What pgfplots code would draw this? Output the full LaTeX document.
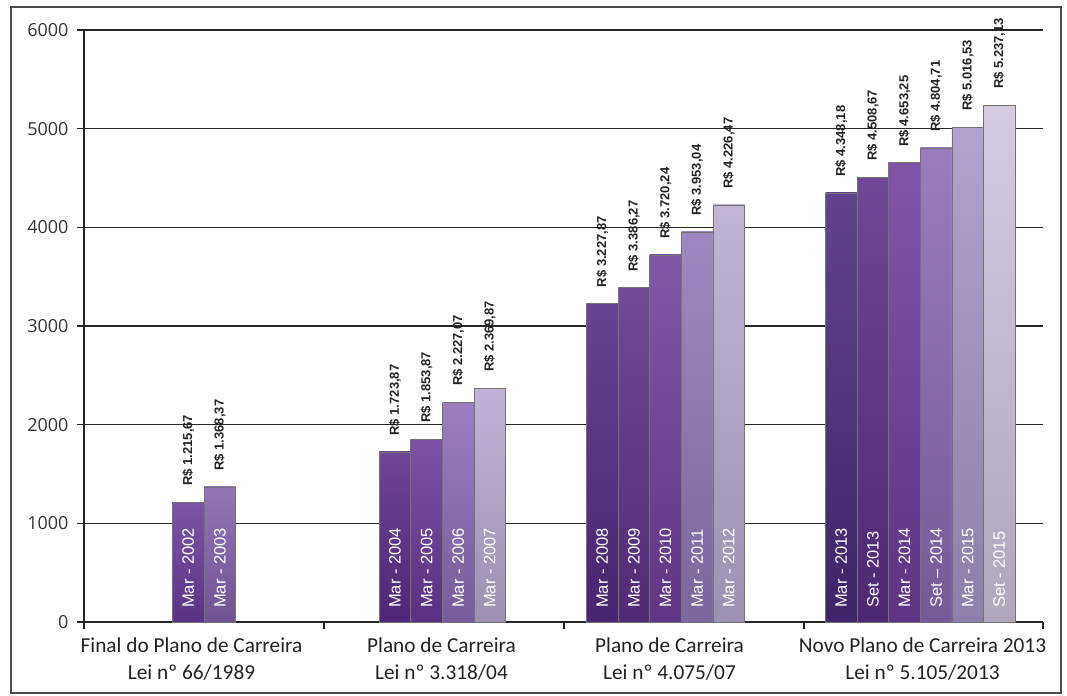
\documentclass[border=0pt]{standalone}
\usepackage{fontspec}
\setmainfont{Carlito}
\newfontfamily\arialf{Liberation Sans}
\newfontfamily\osans{Open Sans}
\usepackage{pgfplots}
\pgfplotsset{compat=1.18}

\definecolor{cA}{HTML}{6A3D9B}
\definecolor{cB}{HTML}{8462AE}
\definecolor{cC}{HTML}{5B2D8A}
\definecolor{cD}{HTML}{6A3A98}
\definecolor{cE}{HTML}{8C6CB5}
\definecolor{cF}{HTML}{B8A9D2}
\definecolor{cG}{HTML}{532B82}
\definecolor{cH}{HTML}{5E3289}
\definecolor{cI}{HTML}{6F409C}
\definecolor{cJ}{HTML}{9079B8}
\definecolor{cK}{HTML}{B9ABD1}
\definecolor{cL}{HTML}{4B2A7D}
\definecolor{cM}{HTML}{5A3088}
\definecolor{cN}{HTML}{6E3E9C}
\definecolor{cO}{HTML}{8A6AB3}
\definecolor{cP}{HTML}{A795C8}
\definecolor{cQ}{HTML}{CFC4DD}
\definecolor{txt}{HTML}{222222}

% #1 x centre, #2 value, #3 colour, #4 date label
\newcommand{\pbar}[4]{%
  \addplot[ybar, bar width=31.6, bar shift=0pt, draw=black!55, line width=0.8pt,
    top color=#3!88!white, bottom color=#3!85!black,
    nodes near coords={R\$~\pgfmathprintnumber{\pgfplotspointmeta}},
    nodes near coords style={rotate=90, anchor=west, inner xsep=16pt, text=txt,
      font=\arialf\bfseries\fontsize{13}{13}\selectfont,
      /pgf/number format/.cd, fixed, fixed zerofill, precision=2,
      1000 sep={.}, dec sep={,}, assume math mode=true}]
    coordinates {(#1,#2)};
  \addplot[draw=none, mark=none,
    nodes near coords={#4},
    nodes near coords style={rotate=90, anchor=west, inner xsep=14pt, text=white,
      font=\arialf\fontsize{16.5}{16.5}\selectfont}]
    coordinates {(#1,0)};
}

\begin{document}
\begin{tikzpicture}
\begin{axis}[
  scale only axis, width=959pt, height=592pt,
  xmin=84, xmax=1043, ymin=0, ymax=6000,
  clip=false,
  axis x line=bottom, axis y line=left,
  axis line style={-, black!85, line width=1.2pt},
  ytick={0,1000,2000,3000,4000,5000,6000},
  ymajorgrids, grid style={black!85, line width=1.1pt},
  tick align=outside, major tick length=7pt,
  ytick style={black!85, line width=1.1pt},
  yticklabel style={font=\osans\fontsize{18}{18}\selectfont, text=black!80, xshift=-5pt},
  /pgf/number format/assume math mode=true,
  scaled y ticks=false,
  yticklabel={\pgfmathprintnumber[fixed, 1000 sep={}]{\tick}},
  xtick={191.5,441.5,669.5,922.5},
  xticklabels={{Final do Plano de Carreira\\Lei nº 66/1989},
               {Plano de Carreira\\Lei nº 3.318/04},
               {Plano de Carreira\\Lei nº 4.075/07},
               {Novo Plano de Carreira 2013\\Lei nº 5.105/2013}},
  xticklabel style={font=\fontsize{21.3}{27}\selectfont, align=center, text=txt, yshift=-5pt},
  xtick style={draw=none},
  extra x ticks={84,324,564,804,1043},
  extra x tick labels={},
  extra x tick style={grid=none, xtick style={draw=black!85, line width=1.1pt}},
]
% Group 1
\pbar{188.3}{1215.67}{cA}{Mar - 2002}
\pbar{219.9}{1368.37}{cB}{Mar - 2003}
% Group 2
\pbar{395}{1723.87}{cC}{Mar - 2004}
\pbar{426.6}{1853.87}{cD}{Mar - 2005}
\pbar{458.2}{2227.07}{cE}{Mar - 2006}
\pbar{489.8}{2369.87}{cF}{Mar - 2007}
% Group 3
\pbar{602.3}{3227.87}{cG}{Mar - 2008}
\pbar{633.9}{3386.27}{cH}{Mar - 2009}
\pbar{665.5}{3720.24}{cI}{Mar - 2010}
\pbar{697.1}{3953.04}{cJ}{Mar - 2011}
\pbar{728.7}{4226.47}{cK}{Mar - 2012}
% Group 4
\pbar{841.3}{4348.18}{cL}{Mar - 2013}
\pbar{872.9}{4508.67}{cM}{Set - 2013}
\pbar{904.5}{4653.25}{cN}{Mar - 2014}
\pbar{936.1}{4804.71}{cO}{Set – 2014}
\pbar{967.7}{5016.53}{cP}{Mar - 2015}
\pbar{999.3}{5237.13}{cQ}{Set - 2015}
% outer frame and page extent
\draw[black!70, line width=1.3pt] (axis cs:11,6233) rectangle (axis cs:1061,-720);
\path (axis cs:0,6304) rectangle (axis cs:1067,-740);
\end{axis}
\end{tikzpicture}
\end{document}
